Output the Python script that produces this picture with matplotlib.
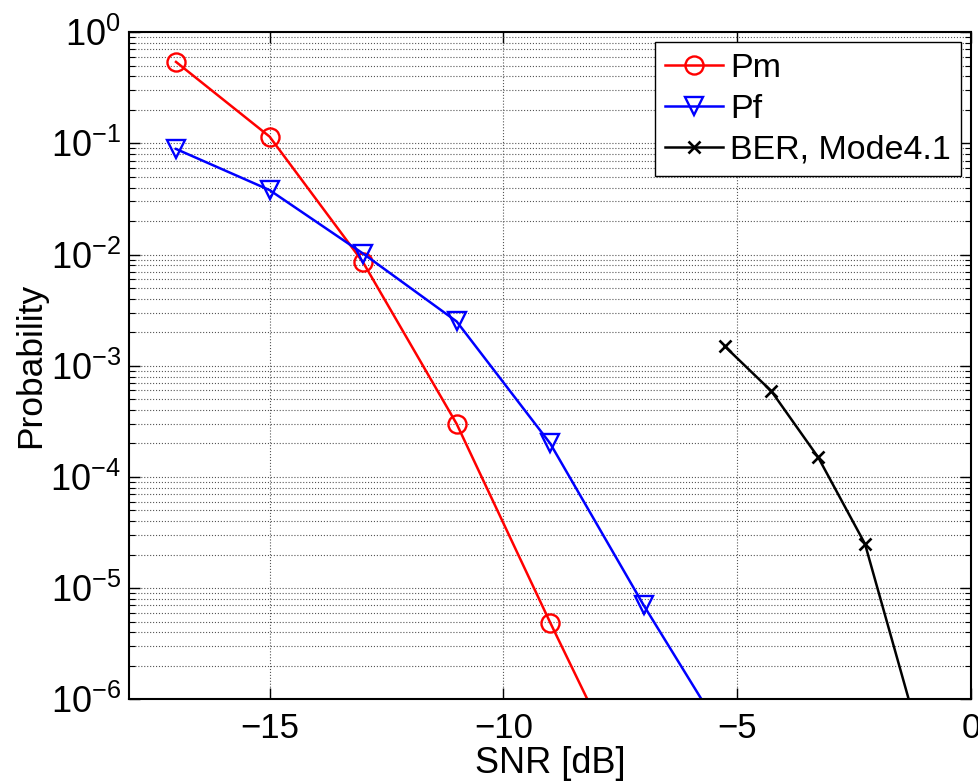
import matplotlib
matplotlib.use('Agg')
import matplotlib.pyplot as plt
from matplotlib.ticker import LogLocator, NullFormatter

plt.rcParams['font.family'] = ['Liberation Sans', 'DejaVu Sans']
plt.rcParams['mathtext.fontset'] = 'custom'
plt.rcParams['mathtext.rm'] = 'Liberation Sans'
plt.rcParams['mathtext.it'] = 'Liberation Sans'
plt.rcParams['mathtext.bf'] = 'Liberation Sans'

# data
snr_pm = [-17, -15, -13, -11, -9, -7]
pm = [0.54, 0.115, 0.0085, 3.0e-4, 4.9e-6, 9e-8]

snr_pf = [-17, -15, -13, -11, -9, -7, -5]
pf = [0.089, 0.038, 0.0102, 0.0025, 2.0e-4, 7.0e-6, 3e-7]

snr_ber = [-5.27, -4.27, -3.27, -2.27, -1.27]
ber = [1.5e-3, 5.9e-4, 1.5e-4, 2.5e-5, 8e-7]

fig = plt.figure(figsize=(9.79, 7.84), dpi=100)
ax = fig.add_axes([0.132, 0.108, 0.86, 0.851])

ax.semilogy(snr_pm, pm, '-o', color='red', lw=1.8, ms=13, mfc='none', mew=1.7, label='Pm')
ax.semilogy(snr_pf, pf, '-v', color='blue', lw=1.8, ms=13, mfc='none', mew=1.7, label='Pf')
ax.semilogy(snr_ber, ber, '-x', color='black', lw=1.8, ms=9, mew=1.9, label='BER, Mode4.1')

ax.set_xlim(-18, 0)
ax.set_ylim(1e-6, 1)
ax.set_xticks([-15, -10, -5, 0])
ax.yaxis.set_major_locator(LogLocator(base=10, numticks=10))
ax.yaxis.set_minor_locator(LogLocator(base=10, subs=range(2, 10), numticks=20))
ax.yaxis.set_minor_formatter(NullFormatter())

ax.grid(True, which='major', color='#555555', linestyle=':', linewidth=0.8)
ax.grid(True, which='minor', axis='y', color='#555555', linestyle=':', linewidth=0.8)

ax.tick_params(which='both', direction='in', top=True, right=True)
ax.tick_params(which='major', length=8, width=1)
ax.tick_params(which='minor', length=4, width=0.8)
ax.tick_params(axis='x', pad=9, labelsize=25)
ax.tick_params(axis='y', pad=6, labelsize=26)
for s in ax.spines.values():
    s.set_linewidth(1.5)

ax.set_xlabel('SNR [dB]', fontsize=26, labelpad=1)
ax.set_ylabel('Probability', fontsize=25.5, labelpad=2)

leg = ax.legend(loc='upper right', fontsize=24.5, fancybox=False, edgecolor='black',
                framealpha=1, handlelength=1.7, borderaxespad=0.3, labelspacing=0.3,
                handletextpad=0.2, borderpad=0.3)
leg.get_frame().set_linewidth(1.0)

fig.savefig('out.png', dpi=100)
